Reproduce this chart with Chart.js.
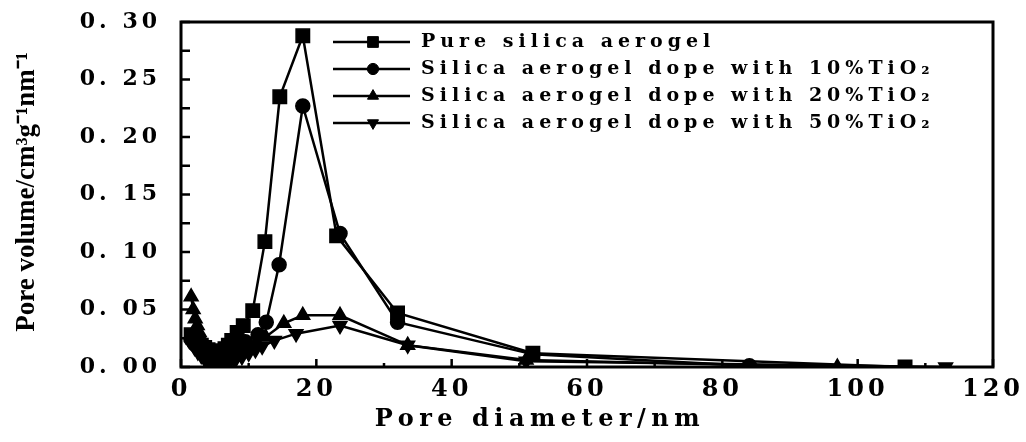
<!DOCTYPE html>
<html>
<head>
<meta charset="utf-8">
<script src="https://cdn.jsdelivr.net/npm/chart.js@4.4.0/dist/chart.umd.min.js"></script>
<style>
  html, body { margin: 0; padding: 0; background: #fff; }
</style>
</head>
<body>
<canvas id="chart" width="1026" height="442"></canvas>
<script>
// data
const seriesNames = [
  'Pure silica aerogel',
  'Silica aerogel dope with 10%TiO₂',
  'Silica aerogel dope with 20%TiO₂',
  'Silica aerogel dope with 50%TiO₂'
];

const pureDiam = [1.5, 2, 2.5, 3, 3.5, 4, 4.5, 5, 5.5, 6, 6.5, 7, 7.5, 8.3, 9.2, 10.6, 12.4, 14.6, 18, 23, 32, 52, 107];
const pureVol  = [0.028, 0.024, 0.021, 0.019, 0.017, 0.015, 0.014, 0.013, 0.013, 0.014, 0.016, 0.019, 0.023, 0.030, 0.036, 0.049, 0.109, 0.235, 0.288, 0.114, 0.047, 0.012, 0.000];

const ti10Diam = [1.5, 2, 2.5, 3, 3.5, 4, 4.5, 5, 5.5, 6, 6.5, 7, 7.5, 8.1, 9.5, 11.4, 12.6, 14.5, 18, 23.5, 32, 52, 84];
const ti10Vol  = [0.024, 0.020, 0.017, 0.014, 0.012, 0.010, 0.009, 0.008, 0.008, 0.009, 0.010, 0.012, 0.015, 0.019, 0.022, 0.028, 0.039, 0.089, 0.227, 0.116, 0.039, 0.011, 0.001];

const ti20Diam = [1.5, 1.8, 2.1, 2.4, 2.7, 3, 3.5, 4, 4.5, 5, 5.5, 6, 6.5, 7, 8, 9, 10, 11, 12.5, 15.2, 18, 23.5, 33.5, 51, 97];
const ti20Vol  = [0.061, 0.050, 0.042, 0.036, 0.030, 0.025, 0.018, 0.012, 0.008, 0.005, 0.004, 0.004, 0.005, 0.006, 0.009, 0.013, 0.017, 0.020, 0.026, 0.038, 0.045, 0.045, 0.019, 0.006, 0.000];

const ti50Diam = [1.5, 2, 2.5, 3, 3.5, 4, 4.5, 5, 5.5, 6, 6.5, 7, 8, 9, 10, 11, 12, 13.8, 17, 23.5, 33.5, 51, 113];
const ti50Vol  = [0.022, 0.017, 0.013, 0.010, 0.007, 0.005, 0.003, 0.002, 0.001, 0.001, 0.002, 0.003, 0.006, 0.009, 0.012, 0.015, 0.018, 0.023, 0.029, 0.036, 0.019, 0.005, 0.000];

const xTickLabels = ['0', '20', '40', '60', '80', '100', '120'];
const yTickLabels = ['0. 00', '0. 05', '0. 10', '0. 15', '0. 20', '0. 25', '0. 30'];

const xTitle = 'Pore diameter/nm';
const yTitle = 'Pore volume/cm³g⁻¹nm⁻¹';

const toPoints = (xs, ys) => xs.map((x, i) => ({ x, y: ys[i] }));

const serifBold = '"DejaVu Serif", "Liberation Serif", serif';

function makeSet(label, xs, ys, style, radius, rotation) {
  return {
    label,
    data: toPoints(xs, ys),
    borderColor: '#000',
    backgroundColor: '#000',
    borderWidth: 2.5,
    pointStyle: style,
    pointRadius: radius,
    pointRotation: rotation || 0,
    pointBorderWidth: 1.5,
    tension: 0,
    fill: false
  };
}

// frame + inward ticks
const framePlugin = {
  id: 'frame',
  afterDatasetsDraw(chart) {
    const { ctx, chartArea: a, scales: { x, y } } = chart;
    ctx.save();
    ctx.strokeStyle = '#000';
    ctx.lineWidth = 3;
    ctx.strokeRect(a.left, a.top, a.right - a.left, a.bottom - a.top);
    ctx.lineWidth = 2.5;
    ctx.beginPath();
    for (let v = 0; v <= 0.3001; v += 0.025) {
      const py = y.getPixelForValue(v);
      ctx.moveTo(a.left, py);
      ctx.lineTo(a.left + 9, py);
    }
    for (let v = 0; v <= 120; v += 10) {
      const px = x.getPixelForValue(v);
      const len = v % 20 === 0 ? 8 : 4;
      ctx.moveTo(px, a.bottom);
      ctx.lineTo(px, a.bottom - len);
    }
    ctx.stroke();
    ctx.restore();
  }
};

// legend inside the plot, line-marker-line style
const legendPlugin = {
  id: 'insideLegend',
  afterDatasetsDraw(chart) {
    const ctx = chart.ctx;
    ctx.save();
    ctx.letterSpacing = '5px';
    ctx.font = 'bold 19px ' + serifBold;
    ctx.textBaseline = 'middle';
    ctx.fillStyle = '#000';
    ctx.strokeStyle = '#000';
    chart.data.datasets.forEach((ds, i) => {
      const yy = 42 + i * 27;
      ctx.lineWidth = 2.5;
      ctx.beginPath();
      ctx.moveTo(333, yy);
      ctx.lineTo(410, yy);
      ctx.stroke();
      ctx.lineWidth = 1;
      Chart.helpers.drawPoint(ctx, {
        pointStyle: ds.pointStyle,
        radius: ds.pointRadius * 0.8,
        rotation: ds.pointRotation,
        borderWidth: 1
      }, 373, yy);
      ctx.fillText(ds.label, 421, yy);
    });
    ctx.restore();
  }
};

// axis titles: x in wide bold serif, y rotated in narrower serif
const titlePlugin = {
  id: 'titles',
  afterDraw(chart) {
    const ctx = chart.ctx;
    ctx.save();
    ctx.fillStyle = '#000';
    ctx.textAlign = 'center';
    ctx.textBaseline = 'middle';
    ctx.letterSpacing = '5.5px';
    ctx.font = 'bold 24px ' + serifBold;
    ctx.fillText(xTitle, 540, 420);
    ctx.letterSpacing = '0px';
    ctx.font = 'bold 27px "Liberation Serif", serif';
    ctx.translate(27, 192);
    ctx.rotate(-Math.PI / 2);
    ctx.fillText(yTitle, 0, 0);
    ctx.restore();
  }
};

const spacingPlugin = {
  id: 'spacing',
  beforeDraw(chart) { chart.ctx.letterSpacing = '4px'; }
};

new Chart(document.getElementById('chart'), {
  type: 'line',
  data: {
    datasets: [
      makeSet(seriesNames[0], pureDiam, pureVol, 'rect', 9.5),
      makeSet(seriesNames[1], ti10Diam, ti10Vol, 'circle', 7),
      makeSet(seriesNames[2], ti20Diam, ti20Vol, 'triangle', 8),
      makeSet(seriesNames[3], ti50Diam, ti50Vol, 'triangle', 8, 180)
    ]
  },
  options: {
    responsive: false,
    devicePixelRatio: 1,
    animation: false,
    layout: { padding: { top: 22, right: 33, left: 0, bottom: 0 } },
    plugins: {
      legend: { display: false },
      tooltip: { enabled: false }
    },
    scales: {
      x: {
        type: 'linear',
        min: 0,
        max: 120,
        afterFit: s => { s.height = 75; s.paddingLeft = 0; s.paddingRight = 0; },
        ticks: {
          stepSize: 20,
          color: '#000',
          padding: 8,
          font: { family: serifBold, weight: 'bold', size: 24 },
          callback: (v, i) => xTickLabels[i]
        },
        grid: { display: false, drawTicks: false },
        border: { display: false }
      },
      y: {
        min: 0,
        max: 0.3,
        afterFit: s => { s.width = 181; s.paddingTop = 0; s.paddingBottom = 0; },
        ticks: {
          stepSize: 0.05,
          color: '#000',
          padding: 20,
          font: { family: serifBold, weight: 'bold', size: 22 },
          callback: (v, i) => yTickLabels[i]
        },
        grid: { display: false, drawTicks: false },
        border: { display: false }
      }
    }
  },
  plugins: [spacingPlugin, framePlugin, legendPlugin, titlePlugin]
});
</script>
</body>
</html>
